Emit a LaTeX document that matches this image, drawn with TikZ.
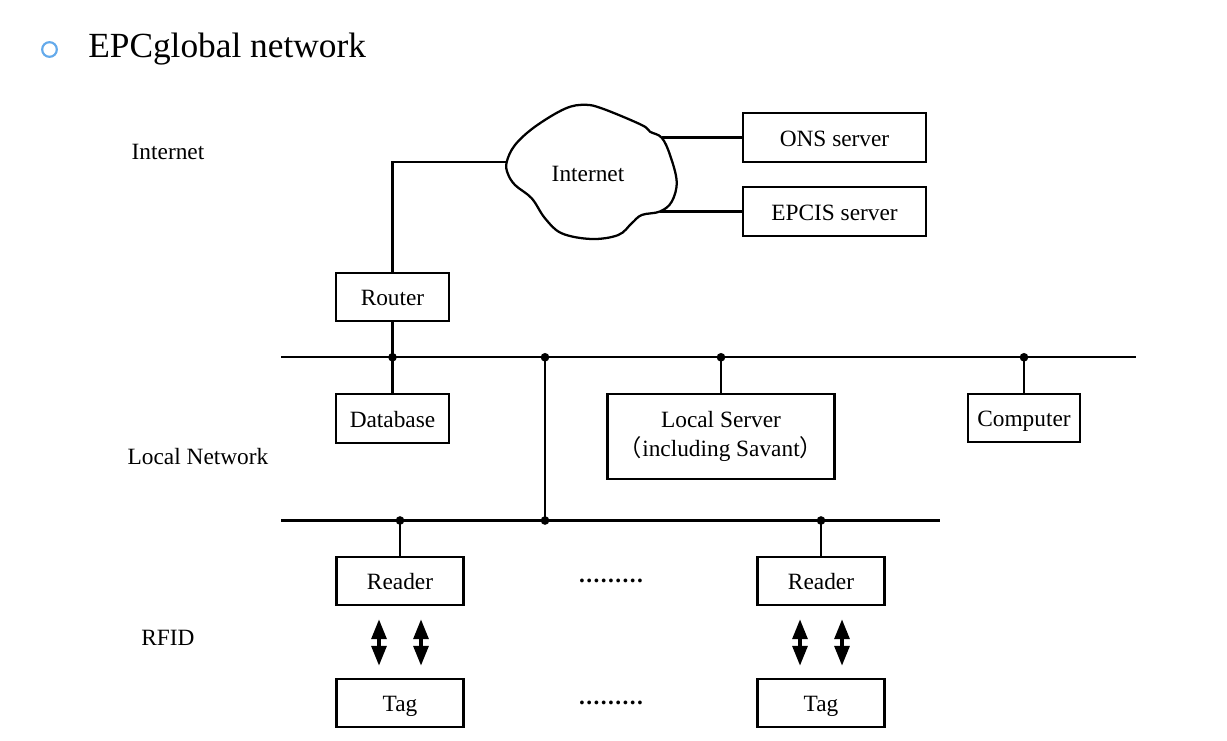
\documentclass[tikz,border=0pt]{standalone}
\usepackage{fontspec}
\setmainfont{Liberation Serif}
\newfontfamily\cjk{Noto Sans CJK SC}
\newfontfamily\dotfont[LetterSpace=6]{Liberation Serif}
\usetikzlibrary{arrows.meta,calc}
\definecolor{bulletblue}{RGB}{100,170,235}
\begin{document}
\begin{tikzpicture}[x=0.75pt,y=-0.75pt,
  every node/.style={font=\fontsize{17.5}{21.75}\selectfont, inner sep=0pt},
  box/.style={draw, line width=1.7pt, align=center},
  onel/.style={text height=15pt, text depth=1.8pt},
  wire/.style={line width=1.7pt},
  jdot/.style={circle, fill, minimum size=6.5pt, inner sep=0pt},
  dbl/.style={line width=3pt, {Triangle[width=11pt,length=15pt]}-{Triangle[width=11pt,length=15pt]}},
  lbl/.style={onel}]
\useasboundingbox (0,0) rectangle (1227,741);
% title
\draw[bulletblue, line width=1.6pt] (49.5,49.5) circle (5.5pt);
\node[anchor=base west, font=\fontsize{26.5}{30}\selectfont] (title) at (88,58) {EPCglobal network};
% side labels
\node[lbl] (lInternet) at (168,151) {Internet};
\node[lbl] (lLocal) at (198,456) {Local Network};
\node[lbl] (lRFID) at (168,637) {RFID};
% cloud
\draw[line width=1.7pt, fill=white] plot[smooth cycle, tension=0.6] coordinates {
 (506.7,162) (515,145) (535,126.7) (565,108.7) (585,104.8) (603,108.8)
 (641.7,125) (650,131.7) (661.7,137.7) (670,155) (676.7,181.7) (671.7,201.7)
 (660,211.5) (641.7,215) (631.7,223.3) (618.3,235) (591.7,239) (561.7,233.3)
 (545,218.3) (531.7,198.3) (515,185) (507.7,173.3)};
\node[onel] (inet) at (588,173) {Internet};
\coordinate (cL) at (506.7,162);
\coordinate (cR1) at (661.7,137.5);
\coordinate (cR2) at (660,211.5);
% boxes
\node[box, onel, minimum width=137.25pt, minimum height=36.75pt] (ons) at (834.5,137.5) {ONS server};
\node[box, onel, minimum width=137.25pt, minimum height=36.75pt] (epcis) at (834.5,211.5) {EPCIS server};
\node[box, onel, minimum width=84.75pt, minimum height=36pt] (router) at (392.5,297) {Router};
\node[box, onel, minimum width=84.4pt, minimum height=36.75pt] (db) at (392.5,418.5) {Database};
\node[box, minimum width=170.25pt, minimum height=63.75pt] (ls) at (721,436.5) {Local Server\\{\cjk （}including Savant{\cjk ）}};
\node[box, onel, minimum width=84pt, minimum height=36pt] (comp) at (1024,418) {Computer};
\node[box, onel, minimum width=95.25pt, minimum height=36pt] (r1) at (400,581) {Reader};
\node[box, onel, minimum width=95.25pt, minimum height=36pt] (r2) at (821,581) {Reader};
\node[box, onel, minimum width=95.25pt, minimum height=36pt] (t1) at (400,703) {Tag};
\node[box, onel, minimum width=95.25pt, minimum height=36pt] (t2) at (821,703) {Tag};
\node[anchor=base, font=\dotfont\fontsize{17.5}{21}\selectfont\bfseries] (d1) at (611,582.5) {.........};
\node[anchor=base, font=\dotfont\fontsize{17.5}{21}\selectfont\bfseries] (d2) at (611,704) {.........};
% buses
\coordinate (b1L) at (281,357.3);
\coordinate (b1R) at (1136,357.3);
\coordinate (b2L) at (281,520.5);
\coordinate (b2R) at (940,520.5);
\draw[wire] (b1L) -- (b1R);
\draw[wire] (b2L) -- (b2R);
% junctions
\coordinate (j1) at (router.south |- b1L);
\coordinate (j2) at (545,357.3);
\coordinate (j3) at (ls.north |- b1L);
\coordinate (j4) at (comp.north |- b1L);
\coordinate (j5) at (r1.north |- b2L);
\coordinate (j6) at (545,520.5);
\coordinate (j7) at (r2.north |- b2L);
% connectors
\draw[wire] (cL) -| (router.north);
\draw[wire] (cR1) -- (ons.west);
\draw[wire] (cR2) -- (epcis.west);
\draw[wire] (router.south) -- (db.north);
\draw[wire] (j2) -- (j6);
\draw[wire] (j3) -- (ls.north);
\draw[wire] (j4) -- (comp.north);
\draw[wire] (j5) -- (r1.north);
\draw[wire] (j7) -- (r2.north);
\foreach \j in {j1,j2,j3,j4,j5,j6,j7} \node[jdot] at (\j) {};
% arrows
\draw[dbl] ($(r1.south)+(-21,13)$) -- ($(t1.north)+(-21,-12)$);
\draw[dbl] ($(r1.south)+(21,13)$) -- ($(t1.north)+(21,-12)$);
\draw[dbl] ($(r2.south)+(-21,13)$) -- ($(t2.north)+(-21,-12)$);
\draw[dbl] ($(r2.south)+(21,13)$) -- ($(t2.north)+(21,-12)$);
\end{tikzpicture}
\end{document}
